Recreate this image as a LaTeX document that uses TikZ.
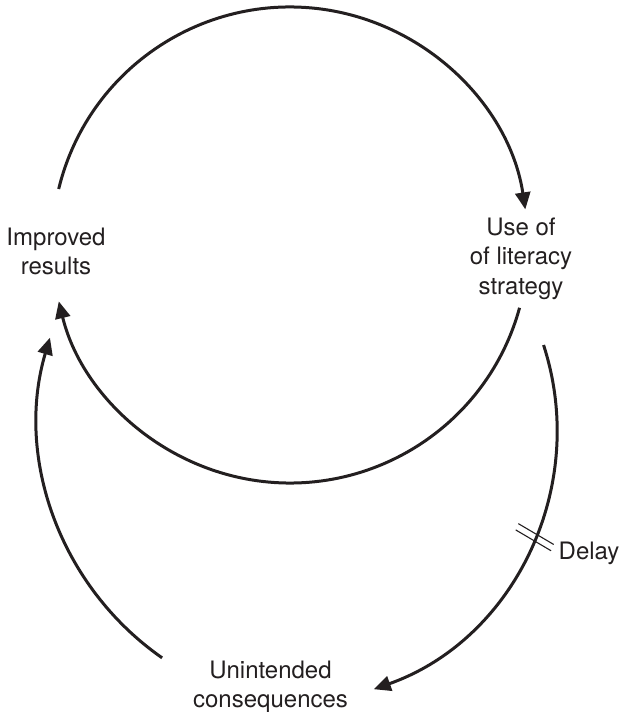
\documentclass[tikz,border=0pt]{standalone}
\usepackage{fontspec}
\setmainfont{TeX Gyre Heros}
\usetikzlibrary{arrows.meta,calc}
\definecolor{ink}{HTML}{231F20}
\tikzset{
  label/.style={align=center, inner sep=0pt, text=ink,
    font=\fontsize{24pt}{29.5pt}\selectfont},
  link/.style={draw=ink, line width=3pt,
    -{Triangle[length=17pt,width=15pt]}},
  delaymark/.style={draw=ink, line width=1.1pt}
}
\begin{document}
\begin{tikzpicture}[x=1pt,y=1pt]
  \useasboundingbox (0,0) rectangle (620,712);

  % variables
  \node[label, anchor=north] (results) at (56,484.5) {Improved\\results};
  \node[label, anchor=north] (strategy) at (521,494.5) {Use of\\of literacy\\strategy};
  \node[label, anchor=north] (unintended) at (270.5,51.5) {Unintended\\consequences};

  % centres of the loop arcs
  \coordinate (inner) at (290,467);
  \coordinate (outerL) at (328,292);
  \coordinate (outerR) at (282,282);

  % arc end points
  \coordinate (topS) at ($(inner)+(166.4:238)$);
  \coordinate (botS) at ($(inner)+(-15.3:238)$);
  \coordinate (leftS) at ($(outerL)+(235.1:290)$);
  \coordinate (rightS) at ($(outerR)+(18:275)$);
  \coordinate (dm) at ($(outerR)+(-23:275)$);

  % reinforcing loop
  \draw[link] (topS) arc[start angle=166.4, end angle=8.6, radius=238];
  \draw[link] (botS) arc[start angle=-15.3, end angle=-166.3, radius=238];

  % balancing loop through the unintended consequences
  \draw[link] (rightS) arc[start angle=18, end angle=-70.5, radius=275];
  \draw[link] (leftS) arc[start angle=235.1, end angle=163.5, radius=290];

  % delay marker
  \draw[delaymark] ($(dm)+(67:3.4)+(149.5:21)$) -- ++(-30.5:41);
  \draw[delaymark] ($(dm)+(-113:3.4)+(149.5:21)$) -- ++(-30.5:41);
  \node[label, anchor=base west] (delay) at (558.5,152) {Delay};
\end{tikzpicture}
\end{document}
